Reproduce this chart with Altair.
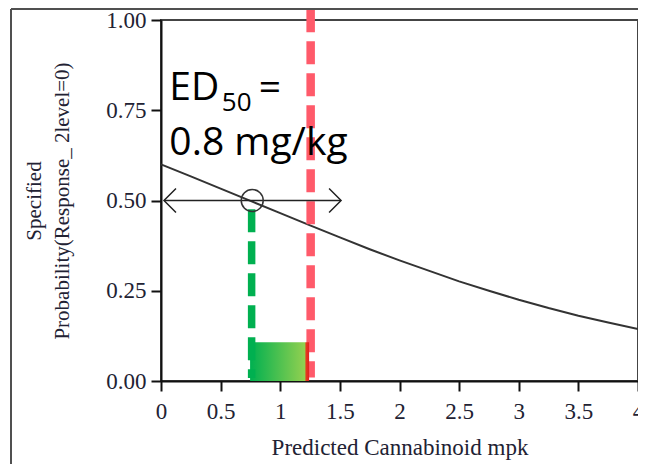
import altair as alt
import pandas as pd

# ---- data ----
curve_x = [0, 0.25, 0.5, 0.75, 1.0, 1.25, 1.5, 1.75, 2.0, 2.25, 2.5, 2.75, 3.0, 3.25, 3.5, 3.75, 4.0]
curve_y = [0.600, 0.567, 0.533, 0.499, 0.465, 0.431, 0.398, 0.365, 0.334, 0.305, 0.276, 0.250, 0.225, 0.202, 0.181, 0.162, 0.144]

ed50_x = [0.765]
ed50_y = [0.5]
arrow_x = [0.025, 1.51]
green_x = [0.76]
green_y = [0.476, 0.008]
red_x = [1.255]
red_y = [1.03, 0.01]
band_x = [0.747, 1.242]
band_y = [0.0, 0.107]

x_ticks = [0, 0.5, 1, 1.5, 2, 2.5, 3, 3.5, 4]
y_ticks = [0, 0.25, 0.5, 0.75, 1.0]

x_title = "Predicted Cannabinoid mpk"
y_title = ["Specified", "Probability(Response_ 2level=0)"]

LABEL_COLOR = "#222233"

xscale = alt.Scale(domain=[0, 4], nice=False, zero=False)
yscale = alt.Scale(domain=[0, 1], nice=False, zero=False)
xaxis = alt.Axis(values=x_ticks, format="~g", title=x_title, labelFlush=False,
                 labelOverlap=False, labelPadding=9, titlePadding=13, titleFontSize=23)
yaxis = alt.Axis(values=y_ticks, format=".2f", title=y_title, labelPadding=5,
                 titlePadding=33, titleFontSize=21, titleLineHeight=28, labelFlush=False)


def X(f):
    return alt.X(f, type="quantitative", scale=xscale, axis=xaxis)


def Y(f):
    return alt.Y(f, type="quantitative", scale=yscale, axis=yaxis)


one = pd.DataFrame({"k": [0]})

curve_df = pd.DataFrame({"x": curve_x, "y": curve_y})
curve = alt.Chart(curve_df).mark_line(color="#333333", strokeWidth=2).encode(x=X("x"), y=Y("y"))

arrow_df = pd.DataFrame({"x": [arrow_x[0]], "x2": [arrow_x[1]], "y": ed50_y})
arrow_line = alt.Chart(arrow_df).mark_rule(color="#222222", strokeWidth=1.6).encode(
    x=X("x"), x2="x2", y=Y("y"))

left_head = alt.Chart(pd.DataFrame({"x": [arrow_x[0]], "y": ed50_y})).mark_point(
    shape="M 1 -1 L 0 0 L 1 1", filled=False, size=576, strokeWidth=1.5,
    color="#222222", opacity=1).encode(x=X("x"), y=Y("y"))
right_head = alt.Chart(pd.DataFrame({"x": [arrow_x[1]], "y": ed50_y})).mark_point(
    shape="M -1 -1 L 0 0 L -1 1", filled=False, size=576, strokeWidth=1.5,
    color="#222222", opacity=1).encode(x=X("x"), y=Y("y"))

circle = alt.Chart(pd.DataFrame({"x": ed50_x, "y": ed50_y})).mark_point(
    shape="circle", filled=False, size=484, strokeWidth=1.5, color="#333333",
    opacity=1).encode(x=X("x"), y=Y("y"))

green_df = pd.DataFrame({"x": green_x, "y": [green_y[0]], "y2": [green_y[1]]})
green = alt.Chart(green_df).mark_rule(color="#00b050", strokeWidth=7.5,
                                      strokeDash=[23, 9]).encode(x=X("x"), y=Y("y"), y2="y2")

red_df = pd.DataFrame({"x": red_x, "y": [red_y[0]], "y2": [red_y[1]]})
red = alt.Chart(red_df).mark_rule(color="#ff5a6a", strokeWidth=8.5,
                                  strokeDash=[23, 9]).encode(x=X("x"), y=Y("y"), y2="y2")

grad = alt.Gradient(
    gradient="linear",
    stops=[alt.GradientStop(color="#00b050", offset=0),
           alt.GradientStop(color="#92d050", offset=0.93),
           alt.GradientStop(color="#e63b1f", offset=0.945),
           alt.GradientStop(color="#e02020", offset=1)],
    x1=0, x2=1, y1=0, y2=0)
band_df = pd.DataFrame({"x": [band_x[0]], "x2": [band_x[1]], "y": [band_y[0]], "y2": [band_y[1]]})
band = alt.Chart(band_df).mark_rect(fill=grad, strokeWidth=0).encode(
    x=X("x"), x2="x2", y=Y("y"), y2="y2")

FONT = "Open Sans"
t_ed = alt.Chart(one).mark_text(text="ED", font=FONT, fontSize=39, align="left",
                                baseline="alphabetic", color="black").encode(
    x=alt.XDatum(0.07, type="quantitative"), y=alt.YDatum(0.778, type="quantitative"))
t_sub = alt.Chart(one).mark_text(text="50", font=FONT, fontSize=26, align="left",
                                 baseline="alphabetic", color="black").encode(
    x=alt.XDatum(0.51, type="quantitative"), y=alt.YDatum(0.748, type="quantitative"))
t_eq = alt.Chart(one).mark_text(text="=", font=FONT, fontSize=39, align="left",
                                baseline="alphabetic", color="black").encode(
    x=alt.XDatum(0.82, type="quantitative"), y=alt.YDatum(0.778, type="quantitative"))
t_val = alt.Chart(one).mark_text(text="0.8 mg/kg", font=FONT, fontSize=39, align="left",
                                 baseline="alphabetic", color="black").encode(
    x=alt.XDatum(0.07, type="quantitative"), y=alt.YDatum(0.626, type="quantitative"))

# outer frame of the figure (decoration, in pixels relative to the plot)
frame_left = alt.Chart(one).mark_rule(color="#505050", strokeWidth=2).encode(
    x=alt.value(-150), y=alt.value(-11), y2=alt.value(460))
frame_top = alt.Chart(one).mark_rule(color="#505050", strokeWidth=2).encode(
    x=alt.value(-150), x2=alt.value(490), y=alt.value(-11))

chart = alt.layer(
    curve, red, band, green, arrow_line, left_head, right_head, circle,
    t_ed, t_sub, t_eq, t_val, frame_left, frame_top
).properties(
    width=477, height=361,
    autosize=alt.AutoSizeParams(type="none"),
    padding={"left": 153, "top": 12, "right": 0, "bottom": 83},
    background="white",
).configure_view(
    stroke="#444444", strokeWidth=2
).configure_axis(
    domainColor="#111111", domainWidth=2, tickColor="#111111", tickWidth=2, tickSize=10,
    grid=False, labelFont="Liberation Serif", labelFontSize=23, labelColor=LABEL_COLOR,
    titleFont="Liberation Serif", titleFontWeight="normal", titleColor=LABEL_COLOR
)

chart.save("out.html", embed_options={"renderer": "svg", "actions": False})
